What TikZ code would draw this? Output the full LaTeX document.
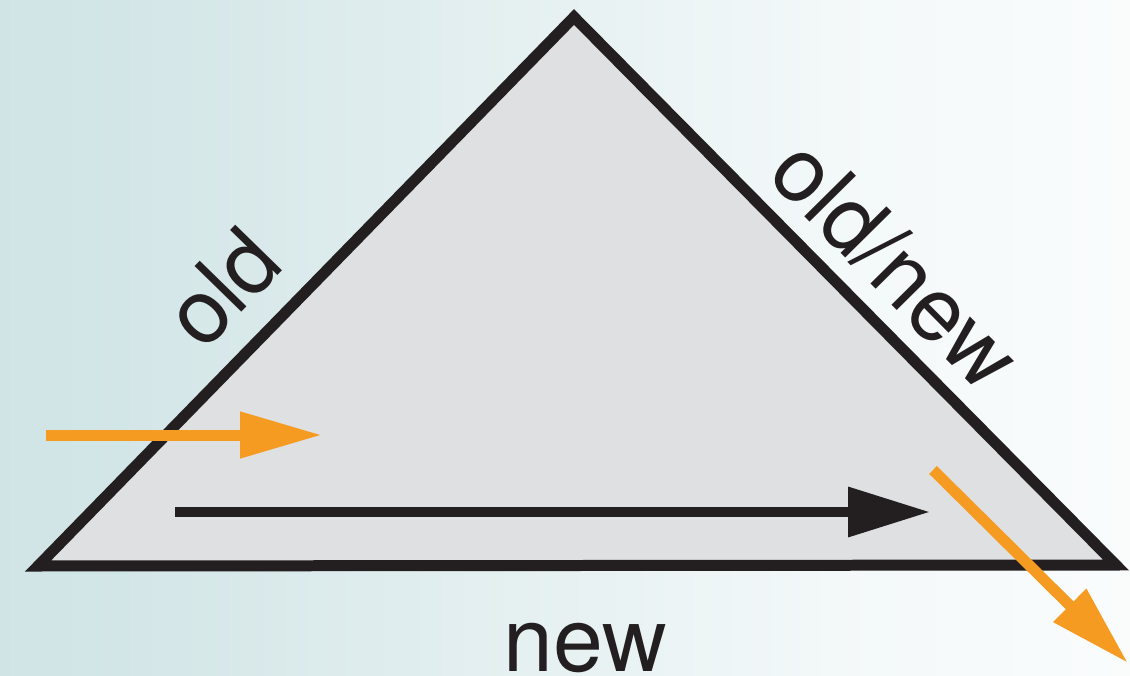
\documentclass[tikz,border=0pt]{standalone}
\usepackage{fontspec}
\setmainfont{TeX Gyre Heros}
\usetikzlibrary{arrows.meta}

\definecolor{bgteal}{RGB}{196,221,223}
\definecolor{wedgegray}{RGB}{223,224,226}
\definecolor{inkblack}{RGB}{35,31,32}
\definecolor{flowora}{RGB}{246,155,34}
\pgfdeclarehorizontalshading{bgfade}{100bp}{color(0bp)=(bgteal); color(30bp)=(bgteal!75!white); color(62bp)=(bgteal!20!white); color(85bp)=(white); color(100bp)=(white)}

\begin{document}
\begin{tikzpicture}[x=0.02cm, y=-0.02cm,
  side/.style={draw=inkblack, line width=0.22cm, line join=miter, fill=wedgegray},
  lbl/.style={inner sep=0pt, text=inkblack, font=\fontsize{51}{60}\selectfont},
  oraflow/.style={draw=flowora, line width=0.22cm, -{Triangle[length=1.64cm, width=0.88cm]}},
  blkflow/.style={draw=inkblack, line width=0.2cm, -{Triangle[length=1.64cm, width=0.96cm]}}]

% background
\useasboundingbox (0,0) rectangle (1130,676);
\shade[shading=bgfade] (0,0) rectangle (1130,676);

% Define the corners of the triangle
\coordinate (L) at (38,566);
\coordinate (T) at (574,17);
\coordinate (R) at (1116,565);
\draw[side] (L) -- (T) -- (R) -- cycle;

% Labels of the sides
\node[lbl, rotate=45.7] (oldlbl) at (222,287) {old};
\node[lbl, rotate=-45.3] (mixlbl) at (896,264) {old/new};
\node[lbl] (newlbl) at (585,648) {new};

% Ends of the arrows
\coordinate (inA) at (46,435);
\coordinate (inB) at (322,435);
\coordinate (runA) at (175,512);
\coordinate (runB) at (930,512);
\coordinate (outA) at (933,470);
\coordinate (outB) at (1128,663);

% Draw the arrows
\draw[blkflow] (runA) -- (runB);
\draw[oraflow] (inA) -- (inB);
\draw[oraflow] (outA) -- (outB);

\end{tikzpicture}
\end{document}
